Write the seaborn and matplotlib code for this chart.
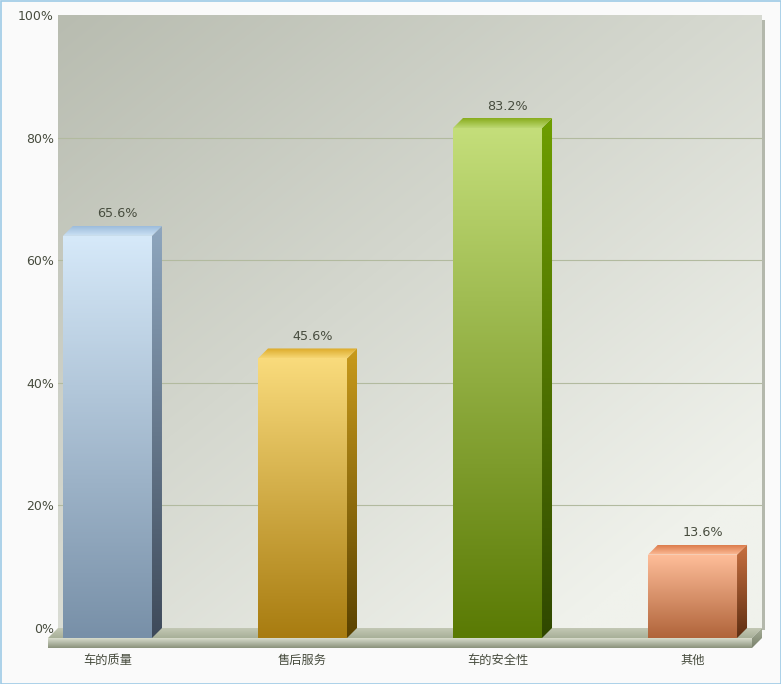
import numpy as np
import pandas as pd
import matplotlib
matplotlib.use("Agg")
import matplotlib.pyplot as plt
import matplotlib.colors as mcolors
from matplotlib.patches import Polygon, Rectangle
import seaborn as sns

# chart data
categories = ["车的质量", "售后服务", "车的安全性", "其他"]
values = [65.6, 45.6, 83.2, 13.6]
y_ticks = [0, 20, 40, 60, 80, 100]
y_labels = ["0%", "20%", "40%", "60%", "80%", "100%"]

# colours per bar: front face, side face, top face (top/back -> bottom/front)
front_top = ["#d6e9f9", "#f9db7c", "#c4de7a", "#ffbe9a"]
front_bot = ["#7890a8", "#a87c10", "#5a7a04", "#b0643a"]
side_top = ["#8ea6be", "#c89a1c", "#6e9e00", "#c87040"]
side_bot = ["#3e4a5a", "#5a4200", "#304800", "#5e2e12"]
cap_back = ["#9cbcdc", "#dcaa28", "#88ac1c", "#dc7c4c"]
cap_front = ["#cde2f4", "#f6d674", "#bcd872", "#fdbc98"]

TEXT = "#474c3e"
W, H, DPI = 781, 684, 100
PX_X = 195.0   # pixels per category step
PX_Y = 6.13    # pixels per percent
DEPTH = 10     # 3d depth in pixels
ddx = DEPTH / PX_X
ddy = DEPTH / PX_Y
XL, XR = -0.305, 3.305

fig = plt.figure(figsize=(W / DPI, H / DPI), dpi=DPI)
fig.patch.set_facecolor("#fafafa")
ax = fig.add_axes([58 / W, (H - 628) / H, 704 / W, 613 / H])


def gradient_face(verts, c_top, c_bot, z):
    verts = np.asarray(verts, dtype=float)
    x0, y0 = verts.min(axis=0)
    x1, y1 = verts.max(axis=0)
    cmap = mcolors.LinearSegmentedColormap.from_list("g", [c_bot, c_top])
    im = ax.imshow(np.linspace(0, 1, 200).reshape(-1, 1), cmap=cmap, origin="lower",
                   extent=(x0, x1, y0, y1), aspect="auto", zorder=z,
                   interpolation="bilinear")
    poly = Polygon(verts, closed=True, transform=ax.transData)
    im.set_clip_path(poly)
    im.set_clip_box(fig.bbox)
    return im


# bars first, so the patches are only the bars
df = pd.DataFrame({"cat": categories, "val": values})
sns.barplot(data=df, x="cat", y="val", hue="cat", palette=front_bot, width=89 / PX_X,
            saturation=1, legend=False, ax=ax, zorder=3)
bars = sorted([p for c in ax.containers for p in c], key=lambda p: p.get_x())

# back wall, diagonal gradient (dark top-left, light bottom-right)
c0 = np.array(mcolors.to_rgb("#b8bcb0"))
c1 = np.array(mcolors.to_rgb("#f0f2ec"))
u = np.linspace(0, 1, 300)[None, :]
v = np.linspace(0, 1, 300)[:, None]
t = np.clip(0.55 * u + 0.6 * v, 0, 1)[..., None]
wall = c0 + (c1 - c0) * t
ax.imshow(wall, extent=(XL, XR, 0, 100), origin="upper", aspect="auto", zorder=0,
          interpolation="bilinear")

# wall right edge
ax.add_patch(Rectangle((XR, -ddy * 0.2), 3 / PX_X, 100 - 3 / PX_Y, color="#b4b8ac",
                       clip_on=False, zorder=0.8, lw=0))

# horizontal guide lines
for yv in y_ticks[1:-1]:
    ax.axhline(yv, color="#b2ba9f", lw=0.8, zorder=0.5)

# floor slab
floor_top = [(XL, 0), (XR, 0), (XR - ddx, -ddy), (XL - ddx, -ddy)]
floor_front = [(XL - ddx, -ddy), (XR - ddx, -ddy), (XR - ddx, -2 * ddy), (XL - ddx, -2 * ddy)]
floor_side = [(XR - ddx, -ddy), (XR, 0), (XR, -ddy), (XR - ddx, -2 * ddy)]
gradient_face(floor_top, "#c3c8b5", "#a8b098", 1)
gradient_face(floor_front, "#d8dccd", "#8a927b", 1)
gradient_face(floor_side, "#a6ae98", "#7a826c", 1)

for i, bar in enumerate(bars):
    x0 = bar.get_x()
    w = bar.get_width()
    h = bar.get_height()
    fx0, fx1 = x0 - ddx, x0 + w - ddx
    top = h - ddy
    bar.set_x(fx0)
    bar.set_y(-ddy)
    bar.set_clip_on(False)
    bar.set_linewidth(0)
    gradient_face([(fx0, -ddy), (fx1, -ddy), (fx1, top), (fx0, top)],
                  front_top[i], front_bot[i], 3.1)
    gradient_face([(fx1, -ddy), (fx1 + ddx, 0), (fx1 + ddx, h), (fx1, top)],
                  side_top[i], side_bot[i], 3.1)
    gradient_face([(fx0, top), (fx1, top), (fx1 + ddx, h), (fx0 + ddx, h)],
                  cap_back[i], cap_front[i], 3.1)
    ax.annotate(f"{values[i]:.1f}%", (x0 + w / 2, h), xytext=(0, 8.6),
                textcoords="offset points", ha="center", va="center",
                fontsize=9.2, color=TEXT, family="DejaVu Sans", zorder=5)

# axes styling
ax.set_xlim(XL, XR)
ax.set_ylim(0, 100)
for s in ax.spines.values():
    s.set_visible(False)
ax.set_yticks(y_ticks, y_labels)
ax.set_xticks([i - ddx for i in range(len(categories))], categories)
ax.tick_params(axis="y", length=0, pad=3, labelsize=9, labelcolor=TEXT)
ax.tick_params(axis="x", length=0, pad=18.5, labelsize=8.8, labelcolor=TEXT)
for lbl in ax.get_yticklabels():
    lbl.set_fontfamily("DejaVu Sans")
for lbl in ax.get_xticklabels():
    lbl.set_fontfamily(["Noto Sans CJK SC", "DejaVu Sans"])
ax.set_xlabel("")
ax.set_ylabel("")
ax.grid(False)

# thin blue border round the image
fig.add_artist(Rectangle((0.5 / W, 0.5 / H), 1 - 1 / W, 1 - 1 / H, transform=fig.transFigure,
                         fill=False, ec="#9ecae6", lw=1.2))

fig.savefig("out.png", dpi=DPI)
